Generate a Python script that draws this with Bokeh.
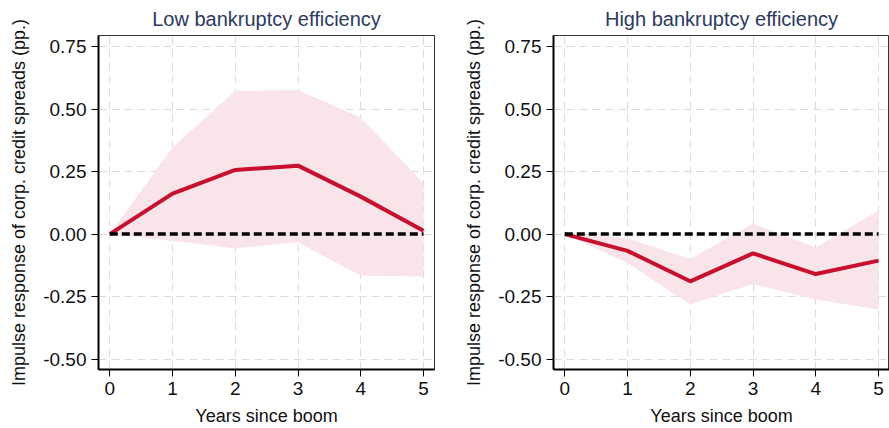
from bokeh.plotting import figure
from bokeh.layouts import row
from bokeh.models import Range1d, FixedTicker
from bokeh.embed import file_html
from bokeh.resources import INLINE

years = [0, 1, 2, 3, 4, 5]

low_mean = [0.0, 0.162, 0.257, 0.274, 0.150, 0.013]
low_upper = [0.0, 0.347, 0.574, 0.577, 0.466, 0.204]
low_lower = [0.0, -0.028, -0.057, -0.033, -0.167, -0.170]

high_mean = [0.0, -0.067, -0.189, -0.077, -0.160, -0.106]
high_upper = [0.0, -0.017, -0.100, 0.042, -0.054, 0.094]
high_lower = [0.0, -0.116, -0.282, -0.200, -0.262, -0.302]

zero_line = [0.0, 0.0, 0.0, 0.0, 0.0, 0.0]

y_ticks = [-0.5, -0.25, 0.0, 0.25, 0.5, 0.75]
y_tick_labels = {-0.5: "-0.50", -0.25: "-0.25", 0.0: "0.00", 0.25: "0.25", 0.5: "0.50", 0.75: "0.75"}

titles = ["Low bankruptcy efficiency", "High bankruptcy efficiency"]
x_label = "Years since boom"
y_label = "Impulse response of corp. credit spreads (pp.)"

FONT = "Liberation Sans"
LINE_COLOR = "#c8102e"
BAND_COLOR = "#f9e4e9"
TITLE_COLOR = "#2b3a5e"


def make_panel(title, mean, upper, lower, width, border_left, border_right):
    p = figure(width=width, height=428, output_backend="svg", toolbar_location=None,
               x_range=Range1d(-0.18, 5.175), y_range=Range1d(-0.542, 0.795),
               min_border_left=border_left, min_border_right=border_right,
               min_border_top=33, min_border_bottom=58)
    p.title.text = title
    p.title.align = "center"
    p.title.text_font = FONT
    p.title.text_font_size = "20px"
    p.title.text_font_style = "normal"
    p.title.text_color = TITLE_COLOR
    p.title.standoff = 11

    p.varea(x=years, y1=lower, y2=upper, fill_color=BAND_COLOR, fill_alpha=1.0)
    p.line(years, mean, line_color=LINE_COLOR, line_width=4)
    p.line(years, zero_line, line_color="black", line_width=3.5, line_dash="8 4")

    p.xaxis.ticker = FixedTicker(ticks=years)
    p.yaxis.ticker = FixedTicker(ticks=y_ticks)
    p.yaxis.major_label_overrides = y_tick_labels
    for ax in (p.xaxis[0], p.yaxis[0]):
        ax.major_label_text_font = FONT
        ax.major_label_text_font_size = "19px"
        ax.major_label_text_color = "#111111"
        ax.axis_label_text_font = FONT
        ax.axis_label_text_font_size = "18px"
        ax.axis_label_text_font_style = "normal"
        ax.axis_label_text_color = "#111111"
        ax.axis_line_color = "black"
        ax.axis_line_width = 2
        ax.major_tick_line_color = "black"
        ax.major_tick_out = 7
        ax.major_tick_in = 0
        ax.minor_tick_line_color = None
        ax.major_label_standoff = 5
    p.xaxis.axis_label = x_label
    p.yaxis.axis_label = y_label
    p.yaxis.axis_label_standoff = 11
    p.xaxis.axis_label_standoff = 8

    p.xgrid.ticker = FixedTicker(ticks=years)
    p.ygrid.ticker = FixedTicker(ticks=y_ticks)
    for g in (p.xgrid[0], p.ygrid[0]):
        g.grid_line_color = "#dcdcdc"
        g.grid_line_dash = "8 5"
        g.grid_line_width = 1

    p.outline_line_color = "#333333"
    p.outline_line_width = 1
    p.background_fill_color = "white"
    p.border_fill_color = "white"
    return p


p1 = make_panel(titles[0], low_mean, low_upper, low_lower, 445, 98, 11)
p2 = make_panel(titles[1], high_mean, high_upper, high_lower, 444, 108, 0)

layout = row(p1, p2)
open("out.html", "w").write(file_html(layout, INLINE))
